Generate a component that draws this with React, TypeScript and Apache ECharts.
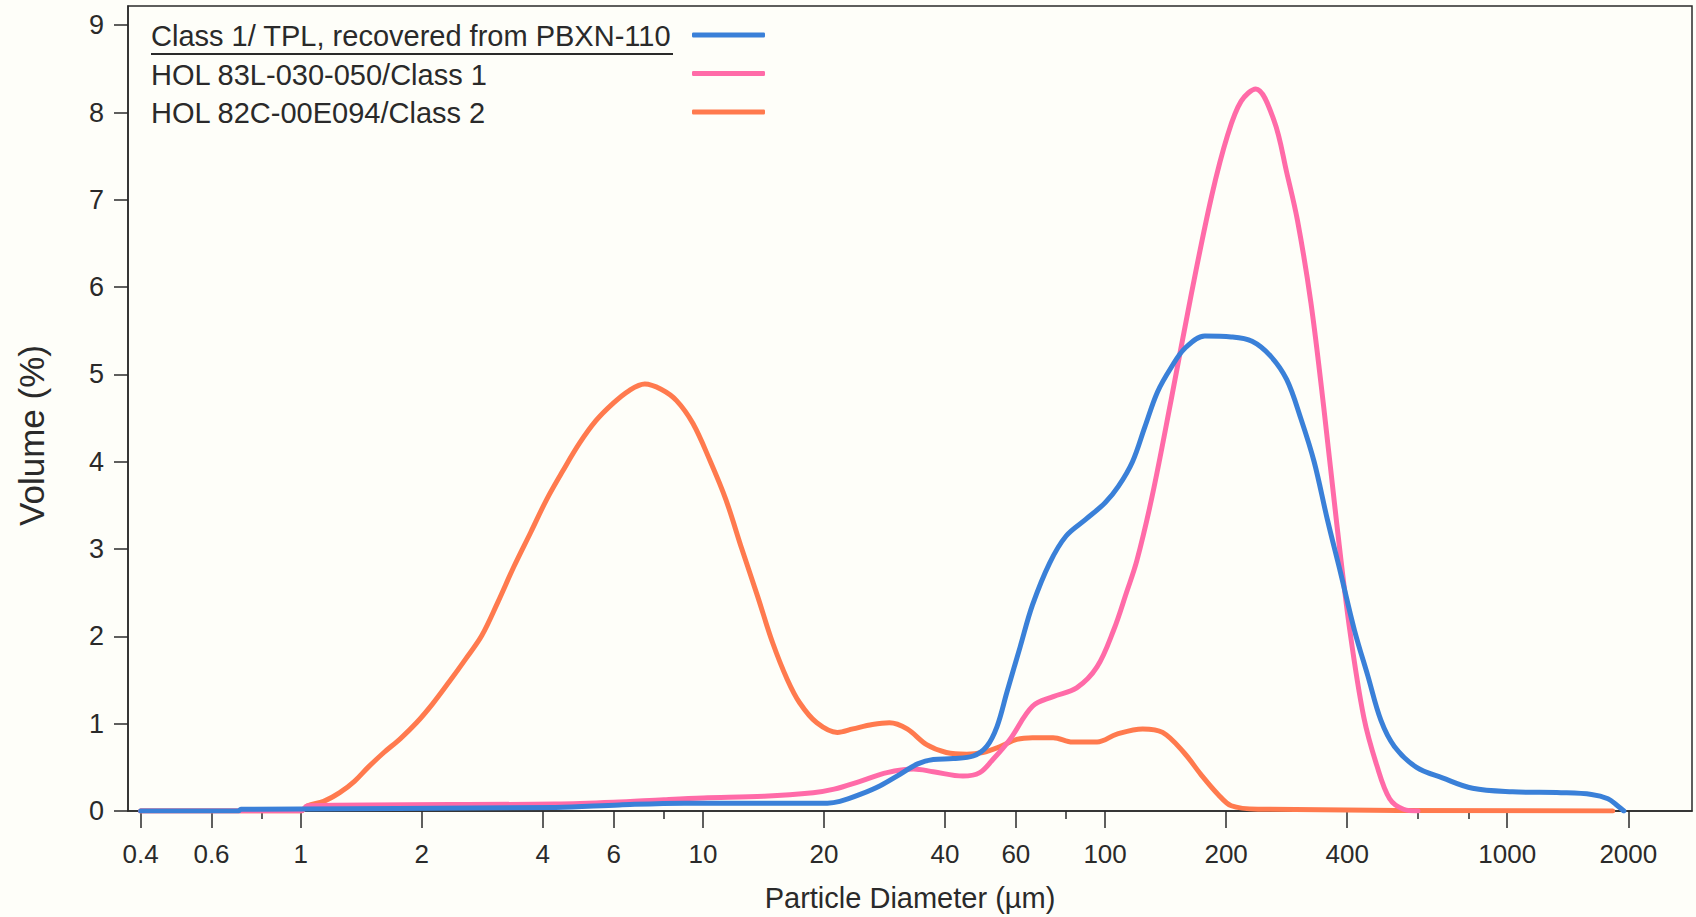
import React, { useEffect, useRef } from "react";
import * as echarts from "echarts";

// ---------- data ----------
const seriesNames = [
  "Class 1/ TPL, recovered from PBXN-110",
  "HOL 83L-030-050/Class 1",
  "HOL 82C-00E094/Class 2",
];
const seriesColors = ["#3A80D8", "#FF6BA8", "#FF7A4E"];

// Class 1/ TPL, recovered from PBXN-110 (blue)
const tplDiameter = [
  0.4, 0.7, 0.71, 4.3, 6.2, 9, 20.4, 21.9, 24.6, 27.6, 30.9, 34.2, 37.4, 41.9,
  47, 50.8, 53.9, 57, 61.5, 66, 72.8, 80, 89.5, 100, 108, 117, 125.6, 135, 146,
  158, 177, 206, 232, 258, 283, 307, 331, 357, 385, 417, 450, 485, 524, 595,
  690, 820, 1030, 1360, 1620, 1780, 1880, 1950,
];
const tplVolume = [
  0, 0, 0.02, 0.04, 0.07, 0.09, 0.09, 0.11, 0.19, 0.29, 0.42, 0.54, 0.59, 0.6,
  0.63, 0.74, 0.97, 1.36, 1.88, 2.36, 2.84, 3.15, 3.34, 3.53, 3.72, 4.0, 4.4,
  4.8, 5.08, 5.3, 5.44, 5.43, 5.38, 5.21, 4.94, 4.49, 4.0, 3.34, 2.73, 2.07,
  1.55, 1.04, 0.74, 0.5, 0.38, 0.26, 0.22, 0.21, 0.19, 0.14, 0.06, 0,
];

// HOL 83L-030-050/Class 1 (pink)
const hol83Diameter = [
  0.4, 1.0, 1.04, 4.3, 6, 8, 10, 14.2, 18.8, 21.2, 24.6, 28.7, 33.4, 37.4, 44.3,
  48.8, 52.6, 58, 66, 74.3, 85, 95.5, 105, 113, 120, 131, 146, 164, 184, 202,
  218, 237, 263, 283, 301, 325, 350, 377, 406, 440, 474, 510, 552, 600,
];
const hol83Volume = [
  0, 0, 0.06, 0.08, 0.1, 0.13, 0.15, 0.17, 0.21, 0.25, 0.34, 0.44, 0.48, 0.45,
  0.4, 0.44, 0.59, 0.82, 1.2, 1.31, 1.41, 1.65, 2.07, 2.5, 2.87, 3.61, 4.71,
  5.93, 7.04, 7.75, 8.13, 8.27, 7.91, 7.31, 6.76, 5.82, 4.61, 3.28, 2.07, 1.07,
  0.52, 0.14, 0.02, 0,
];

// HOL 82C-00E094/Class 2 (orange)
const hol82Diameter = [
  0.4, 1.0, 1.04, 1.14, 1.25, 1.36, 1.47, 1.61, 1.77, 1.94, 2.13, 2.34, 2.57,
  2.82, 3.09, 3.39, 3.73, 4.09, 4.49, 4.93, 5.42, 5.95, 6.53, 7.17, 7.87, 8.6,
  9.44, 10.4, 11.4, 12.5, 13.7, 14.9, 16.2, 17.4, 19.2, 21.6, 23.6, 26.4, 29.1,
  32.2, 36, 40.3, 45.3, 49.6, 55, 60.3, 66, 74.3, 83, 95.5, 107, 124, 139, 157,
  173, 191, 206, 240, 1830,
];
const hol82Volume = [
  0, 0, 0.06, 0.11, 0.21, 0.34, 0.5, 0.67, 0.83, 1.01, 1.23, 1.48, 1.74, 2.01,
  2.39, 2.8, 3.19, 3.57, 3.9, 4.21, 4.47, 4.66, 4.81, 4.89, 4.83, 4.7, 4.44,
  4.02, 3.57, 3.0, 2.45, 1.93, 1.51, 1.24, 1.01, 0.9, 0.94, 0.99, 1.01, 0.94,
  0.76, 0.67, 0.65, 0.67, 0.74, 0.82, 0.84, 0.84, 0.79, 0.79, 0.88, 0.94, 0.9,
  0.67, 0.42, 0.19, 0.06, 0.02, 0,
];

// axes
const xMajorTicks = [0.4, 0.6, 1, 2, 4, 6, 10, 20, 40, 60, 100, 200, 400, 1000, 2000];
const xMajorLabels = ["0.4", "0.6", "1", "2", "4", "6", "10", "20", "40", "60", "100", "200", "400", "1000", "2000"];
const xMinorTicks = [0.8, 8, 80, 600, 800];
const yTicks = [0, 1, 2, 3, 4, 5, 6, 7, 8, 9];
const xMin = 0.372;
const xMax = 2880;
const yMax = 9.22;

const FONT = "'Liberation Sans', Arial, Helvetica, sans-serif";
const INK = "#2a2a2a";

const lg = (d: number) => Math.log10(d);
const zip = (xs: number[], ys: number[]) => xs.map((x, i) => [lg(x), ys[i]]);

export default function App() {
  const ref = useRef<HTMLDivElement>(null);

  useEffect(() => {
    if (!ref.current) return;
    const chart = echarts.init(ref.current, undefined, { renderer: "svg" });

    const dataSets = [
      zip(tplDiameter, tplVolume),
      zip(hol83Diameter, hol83Volume),
      zip(hol82Diameter, hol82Volume),
    ];

    const mkSeries = (i: number) => ({
      name: seriesNames[i],
      type: "line",
      data: dataSets[i],
      xAxisIndex: 0,
      yAxisIndex: 0,
      showSymbol: false,
      symbol: "none",
      smooth: 0.35,
      color: seriesColors[i],
      itemStyle: { color: seriesColors[i] },
      lineStyle: { color: seriesColors[i], width: 5, cap: "round", join: "round" },
      emphasis: { disabled: true },
      silent: true,
    });

    const axisLineStyle = { color: INK, width: 1.5 };

    chart.setOption({
      animation: false,
      backgroundColor: "#FEFEF9",
      grid: {
        left: 128,
        right: 4,
        top: 6,
        bottom: 105,
        show: true,
        borderColor: INK,
        borderWidth: 1.5,
        backgroundColor: "transparent",
      },
      xAxis: [
        {
          type: "value",
          min: lg(xMin),
          max: lg(xMax),
          axisLine: { show: true, onZero: false, lineStyle: axisLineStyle },
          axisTick: {
            show: true,
            customValues: xMajorTicks.map(lg),
            length: 17,
            lineStyle: axisLineStyle,
          },
          axisLabel: {
            customValues: xMajorTicks.map(lg),
            formatter: (v: number) => {
              let best = 0;
              let bd = Infinity;
              xMajorTicks.forEach((t, i) => {
                const dd = Math.abs(lg(t) - v);
                if (dd < bd) {
                  bd = dd;
                  best = i;
                }
              });
              return xMajorLabels[best];
            },
            fontFamily: FONT,
            fontSize: 26,
            color: INK,
            margin: 30,
          },
          splitLine: { show: false },
          name: "Particle Diameter (µm)",
          nameLocation: "middle",
          nameGap: 72,
          nameTextStyle: { fontFamily: FONT, fontSize: 29, color: INK },
        },
        {
          type: "value",
          min: lg(xMin),
          max: lg(xMax),
          position: "bottom",
          axisLine: { show: false, onZero: false },
          axisTick: {
            show: true,
            customValues: xMinorTicks.map(lg),
            length: 8,
            lineStyle: axisLineStyle,
          },
          axisLabel: { show: false },
          splitLine: { show: false },
        },
      ],
      yAxis: {
        type: "value",
        min: 0,
        max: yMax,
        axisLine: { show: true, onZero: false, lineStyle: axisLineStyle },
        axisTick: {
          show: true,
          customValues: yTicks,
          length: 14,
          lineStyle: axisLineStyle,
        },
        axisLabel: {
          customValues: yTicks,
          fontFamily: FONT,
          fontSize: 27,
          color: INK,
          margin: 24,
        },
        splitLine: { show: false },
        name: "Volume (%)",
        nameLocation: "middle",
        nameGap: 79,
        nameTextStyle: {
          fontFamily: FONT,
          fontSize: 35,
          color: INK,
          padding: [0, 54, 0, 0],
        },
      },
      legend: [
        {
          data: seriesNames,
          orient: "vertical",
          left: 146,
          top: 17,
          padding: 0,
          itemWidth: 0,
          itemHeight: 38.5,
          itemGap: 0,
          icon: "rect",
          selectedMode: false,
          textStyle: { fontFamily: FONT, fontSize: 29, color: INK },
        },
        {
          data: seriesNames,
          orient: "vertical",
          left: 692,
          top: 32.5,
          padding: 0,
          itemWidth: 73,
          itemHeight: 5,
          itemGap: 33.5,
          icon: "roundRect",
          selectedMode: false,
          formatter: () => "",
          textStyle: { fontSize: 1 },
        },
      ],
      graphic: [
        {
          type: "line",
          shape: { x1: 151, y1: 54, x2: 673, y2: 54 },
          style: { stroke: INK, lineWidth: 2 },
          silent: true,
        },
      ],
      series: [mkSeries(2), mkSeries(1), mkSeries(0)],
    });

    return () => chart.dispose();
  }, []);

  return (
    <div
      ref={ref}
      style={{ position: "fixed", left: 0, top: 0, width: 1696, height: 917 }}
    />
  );
}
